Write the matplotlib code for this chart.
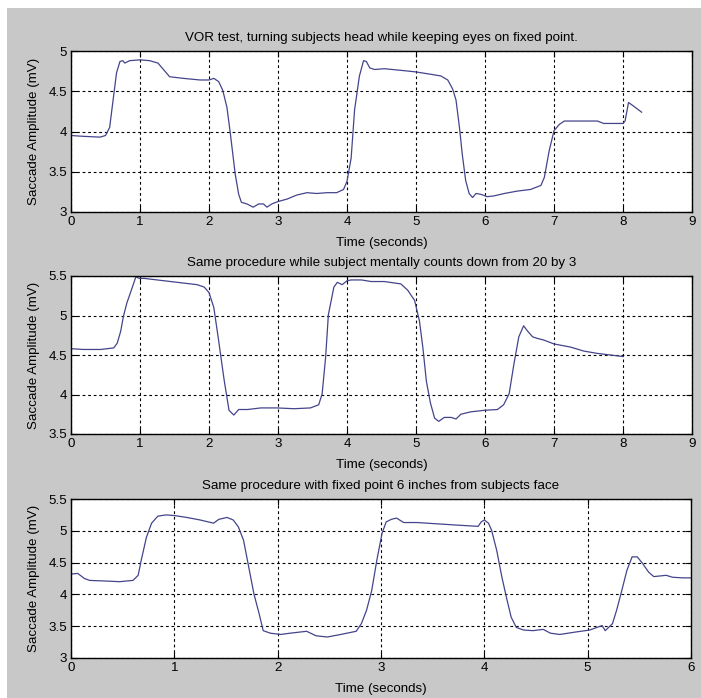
#!/usr/bin/env python3
"""VOR test saccade amplitude traces, three conditions stacked."""

import matplotlib
matplotlib.use("Agg")
import matplotlib.pyplot as plt
from matplotlib.patches import Rectangle

# trace 1: VOR test
T1 = [0.0, 0.18, 0.42, 0.50, 0.56, 0.61, 0.66, 0.71, 0.75, 0.78, 0.85, 1.0, 1.14,
      1.26, 1.36, 1.43, 1.63, 1.87, 2.0, 2.07, 2.14, 2.20, 2.26, 2.31, 2.38, 2.43,
      2.47, 2.55, 2.64, 2.72, 2.79, 2.84, 2.91, 3.0, 3.13, 3.27, 3.42, 3.56, 3.71,
      3.85, 3.95, 4.0, 4.06, 4.11, 4.18, 4.24, 4.28, 4.33, 4.40, 4.54, 4.78, 5.0,
      5.22, 5.36, 5.46, 5.53, 5.58, 5.63, 5.67, 5.72, 5.77, 5.82, 5.87, 5.94, 6.03,
      6.13, 6.28, 6.47, 6.66, 6.81, 6.86, 6.93, 7.0, 7.08, 7.15, 7.34, 7.63, 7.72,
      7.91, 8.0, 8.03, 8.08, 8.13, 8.27]
V1 = [3.95, 3.94, 3.93, 3.95, 4.05, 4.39, 4.73, 4.87, 4.88, 4.85, 4.88, 4.89, 4.88,
      4.85, 4.75, 4.68, 4.66, 4.64, 4.64, 4.66, 4.62, 4.51, 4.30, 3.97, 3.47, 3.22,
      3.12, 3.10, 3.06, 3.10, 3.10, 3.06, 3.10, 3.13, 3.16, 3.21, 3.24, 3.23, 3.24,
      3.24, 3.28, 3.38, 3.67, 4.27, 4.69, 4.88, 4.87, 4.79, 4.77, 4.78, 4.76, 4.74,
      4.71, 4.69, 4.64, 4.53, 4.39, 4.05, 3.72, 3.39, 3.23, 3.18, 3.23, 3.22, 3.19,
      3.20, 3.23, 3.26, 3.28, 3.33, 3.43, 3.76, 4.01, 4.09, 4.13, 4.13, 4.13, 4.10,
      4.10, 4.10, 4.13, 4.36, 4.33, 4.24]

# trace 2: mental counting
T2 = [0.0, 0.18, 0.43, 0.62, 0.67, 0.72, 0.76, 0.81, 0.89, 0.94, 0.99, 1.06, 1.25,
      1.54, 1.83, 1.93, 2.0, 2.07, 2.14, 2.22, 2.29, 2.36, 2.43, 2.56, 2.75, 2.99,
      3.23, 3.47, 3.59, 3.64, 3.69, 3.73, 3.81, 3.86, 3.93, 4.0, 4.06, 4.21, 4.35,
      4.54, 4.78, 4.88, 4.98, 5.05, 5.10, 5.15, 5.21, 5.27, 5.33, 5.41, 5.51, 5.58,
      5.65, 5.79, 5.99, 6.18, 6.27, 6.35, 6.42, 6.49, 6.56, 6.61, 6.69, 6.76, 6.85,
      7.0, 7.24, 7.43, 7.63, 7.82, 8.0]
V2 = [4.58, 4.57, 4.57, 4.59, 4.65, 4.80, 4.99, 5.16, 5.36, 5.49, 5.47, 5.47, 5.45,
      5.42, 5.39, 5.36, 5.29, 5.10, 4.68, 4.18, 3.80, 3.74, 3.81, 3.81, 3.83, 3.83,
      3.82, 3.83, 3.87, 4.01, 4.47, 5.01, 5.36, 5.42, 5.39, 5.44, 5.45, 5.45, 5.43,
      5.43, 5.40, 5.32, 5.19, 4.93, 4.59, 4.17, 3.89, 3.70, 3.66, 3.71, 3.71, 3.69,
      3.75, 3.78, 3.80, 3.81, 3.87, 4.01, 4.39, 4.73, 4.87, 4.81, 4.73, 4.71, 4.69,
      4.64, 4.60, 4.55, 4.52, 4.50, 4.48]

# trace 3: fixed point 6 inches from face
T3 = [0.0, 0.065, 0.13, 0.18, 0.34, 0.47, 0.60, 0.65, 0.68, 0.73, 0.78, 0.84, 0.92,
      1.0, 1.12, 1.25, 1.38, 1.43, 1.51, 1.57, 1.62, 1.67, 1.72, 1.77, 1.82, 1.86,
      1.93, 2.03, 2.12, 2.28, 2.37, 2.48, 2.61, 2.70, 2.76, 2.81, 2.86, 2.91, 2.96,
      3.01, 3.05, 3.10, 3.15, 3.22, 3.35, 3.54, 3.73, 3.94, 3.97, 4.0, 4.04, 4.07,
      4.12, 4.17, 4.22, 4.26, 4.31, 4.38, 4.47, 4.57, 4.64, 4.73, 4.89, 5.02, 5.14,
      5.17, 5.24, 5.28, 5.33, 5.38, 5.43, 5.48, 5.53, 5.59, 5.64, 5.76, 5.82, 5.92,
      6.0]
V3 = [4.32, 4.33, 4.25, 4.22, 4.21, 4.20, 4.22, 4.30, 4.54, 4.90, 5.12, 5.23, 5.25,
      5.24, 5.21, 5.17, 5.12, 5.18, 5.21, 5.17, 5.06, 4.85, 4.43, 4.01, 3.70, 3.43,
      3.39, 3.37, 3.39, 3.42, 3.35, 3.33, 3.37, 3.40, 3.42, 3.54, 3.75, 4.06, 4.54,
      4.96, 5.14, 5.18, 5.20, 5.13, 5.13, 5.11, 5.09, 5.07, 5.14, 5.17, 5.12, 5.01,
      4.69, 4.27, 3.91, 3.64, 3.48, 3.44, 3.43, 3.45, 3.39, 3.37, 3.41, 3.44, 3.51,
      3.43, 3.54, 3.75, 4.06, 4.38, 4.59, 4.59, 4.49, 4.35, 4.28, 4.30, 4.27, 4.26,
      4.26]

TITLES = [
    "VOR test, turning subjects head while keeping eyes on fixed point.",
    "Same procedure while subject mentally counts down from 20 by 3",
    "Same procedure with fixed point 6 inches from subjects face",
]
XLIMS = [(0, 9), (0, 9), (0, 6)]
YLIMS = [(3, 5), (3.5, 5.5), (3, 5.5)]
Y_STEP = 0.5

LINE_COLOR = "#44448c"
BG = "#c8c8c8"
FS = 9.6

plt.rcParams["font.family"] = ["Liberation Sans", "DejaVu Sans"]

fig = plt.figure(figsize=(7.01, 6.98), dpi=100)
fig.patch.set_facecolor("white")
fig.patches.append(Rectangle((7 / 701, 0), 1, 1 - 8 / 698, transform=fig.transFigure,
                             facecolor=BG, edgecolor="none", zorder=-10))

# axes boxes in pixels: left, top, right, bottom
boxes = [(71, 51, 692, 212), (71, 276, 692, 434), (71, 499, 691, 658)]
series = [(T1, V1), (T2, V2), (T3, V3)]

for (l, t, r, b), (tt, vv), title, xl, yl in zip(boxes, series, TITLES, XLIMS, YLIMS):
    ax = fig.add_axes([l / 701, (698 - b) / 698, (r - l) / 701, (b - t) / 698])
    ax.plot(tt, vv, color=LINE_COLOR, linewidth=0.9)
    ax.set_xlim(*xl)
    ax.set_ylim(*yl)
    ax.set_xticks(range(xl[0], xl[1] + 1))
    yt = [yl[0] + i * Y_STEP for i in range(int(round((yl[1] - yl[0]) / Y_STEP)) + 1)]
    ax.set_yticks(yt)
    ax.set_yticklabels([f"{v:g}" for v in yt])
    ax.grid(True, color="black", linestyle=(0, (2.5, 2.5)), linewidth=0.8)
    ax.tick_params(direction="in", length=4, width=0.8, labelsize=FS, pad=3,
                   colors="black", top=True, right=True)
    ax.tick_params(axis="x", pad=3)
    for sp in ax.spines.values():
        sp.set_linewidth(1.0)
    ax.set_title(title, fontsize=FS, pad=7)
    ax.set_xlabel("Time (seconds)", fontsize=FS)
    ax.set_ylabel("Saccade Amplitude (mV)", fontsize=FS)
    ax.xaxis.set_label_coords(0.5, -25 / (b - t))
    ax.yaxis.set_label_coords(-31 / (r - l), 0.5)

fig.savefig("out.png", dpi=100, facecolor=fig.get_facecolor())
